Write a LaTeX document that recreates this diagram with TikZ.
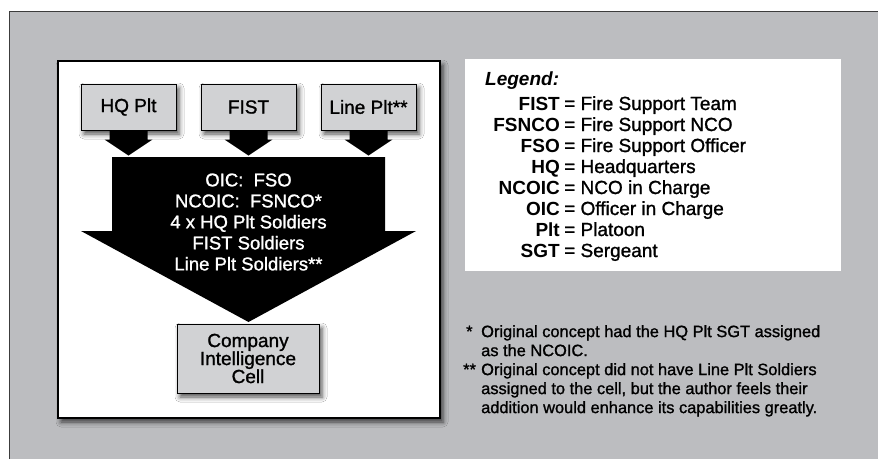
\documentclass[tikz,border=0pt]{standalone}
\usepackage{fontspec}
\setmainfont{Liberation Sans}[UprightFeatures={FakeBold=1.2}]
\usetikzlibrary{shadows.blur}

\definecolor{panelgray}{HTML}{BCBDC0}
\definecolor{boxgray}{HTML}{D1D2D4}
\definecolor{rimgray}{HTML}{3C3C3C}

\tikzset{
    softshadow/.style={blur shadow={shadow xshift=3pt,shadow yshift=-4pt,
        shadow blur radius=5pt,shadow opacity=70}},
    unitbox/.style={draw=black,fill=boxgray,line width=1pt,inner sep=0pt,
        minimum width=95pt,minimum height=46pt,softshadow,
        font=\fontsize{19}{18}\selectfont},
    cellbox/.style={unitbox,minimum width=142pt,minimum height=69pt,align=center},
    legendtext/.style={inner sep=0pt,font=\fontsize{19}{21}\selectfont},
    notetext/.style={inner sep=0pt,align=left,font=\fontsize{16.4}{19}\selectfont}
}

\begin{document}
\begin{tikzpicture}[x=1pt,y=-1pt]
            \useasboundingbox (0, 0) rectangle (878, 459);

            % grey page
            \fill[panelgray] (9, 11) rectangle (878, 459);
            \draw[rimgray,line width=1pt] (9, 459) -- (9, 11) -- (878, 11);

            % white panel with the cell
            \draw[fill=white,line width=1.1pt,softshadow]
                (58, 61) rectangle (440, 418);

            \node[unitbox] (hq) at (128.5, 107) {HQ Plt};
            \node[unitbox] (fist) at (248.5, 107) {FIST};
            \node[unitbox] (line) at (368.5, 107) {Line Plt**};

            \foreach \n in {hq, fist, line}
                \fill[black]
                    ([xshift=-19pt]\n.south) -- ([xshift=19pt]\n.south)
                    -- ([xshift=19pt,yshift=-9pt]\n.south)
                    -- ([xshift=24pt,yshift=-9pt]\n.south)
                    -- ([yshift=-25pt]\n.south)
                    -- ([xshift=-24pt,yshift=-9pt]\n.south)
                    -- ([xshift=-19pt,yshift=-9pt]\n.south) -- cycle;

            \fill[black]
                (112, 157) -- (385, 157) -- (385, 231) -- (416, 231)
                -- (248.5, 322) -- (81, 231) -- (112, 231) -- cycle;

            \node[text=white,align=center,font=\fontsize{18.5}{21}\selectfont]
                (crew) at (248.5, 222) {OIC:\ \ FSO\\
                NCOIC:\ \ FSNCO*\\
                4 x HQ Plt Soldiers\\
                FIST Soldiers\\
                Line Plt Soldiers**};

            \node[cellbox] (cell) at (248, 358.5) {Company\\Intelligence\\Cell};

            % legend
            \fill[white] (465, 59) rectangle (841, 271);
            \node[legendtext,anchor=base west] (lg) at (485, 85)
                {\bfseries\itshape Legend:};
            \foreach \ab/\txt [count=\i] in {FIST/Fire Support Team,
                    FSNCO/Fire Support NCO, FSO/Fire Support Officer,
                    HQ/Headquarters, NCOIC/NCO in Charge,
                    OIC/Officer in Charge, Plt/Platoon, SGT/Sergeant} {
                \node[legendtext,anchor=base east] (ab\i) at (560, {89+21*\i})
                    {\bfseries\ab};
                \node[legendtext,anchor=base west] (tx\i) at (564, {89+21*\i})
                    {= \txt};
            }

            % footnotes
            \node[notetext,anchor=base west] (m1) at (466, 337) {*};
            \node[notetext,anchor=north west] (n1) at (481, 325)
                {Original concept had the HQ Plt SGT assigned\\
                as the NCOIC.};
            \node[notetext,anchor=base west] (m2) at (463, 375) {**};
            \node[notetext,anchor=north west] (n2) at (481, 363)
                {Original concept did not have Line Plt Soldiers\\
                assigned to the cell, but the author feels their\\
                addition would enhance its capabilities greatly.};
\end{tikzpicture}
\end{document}
